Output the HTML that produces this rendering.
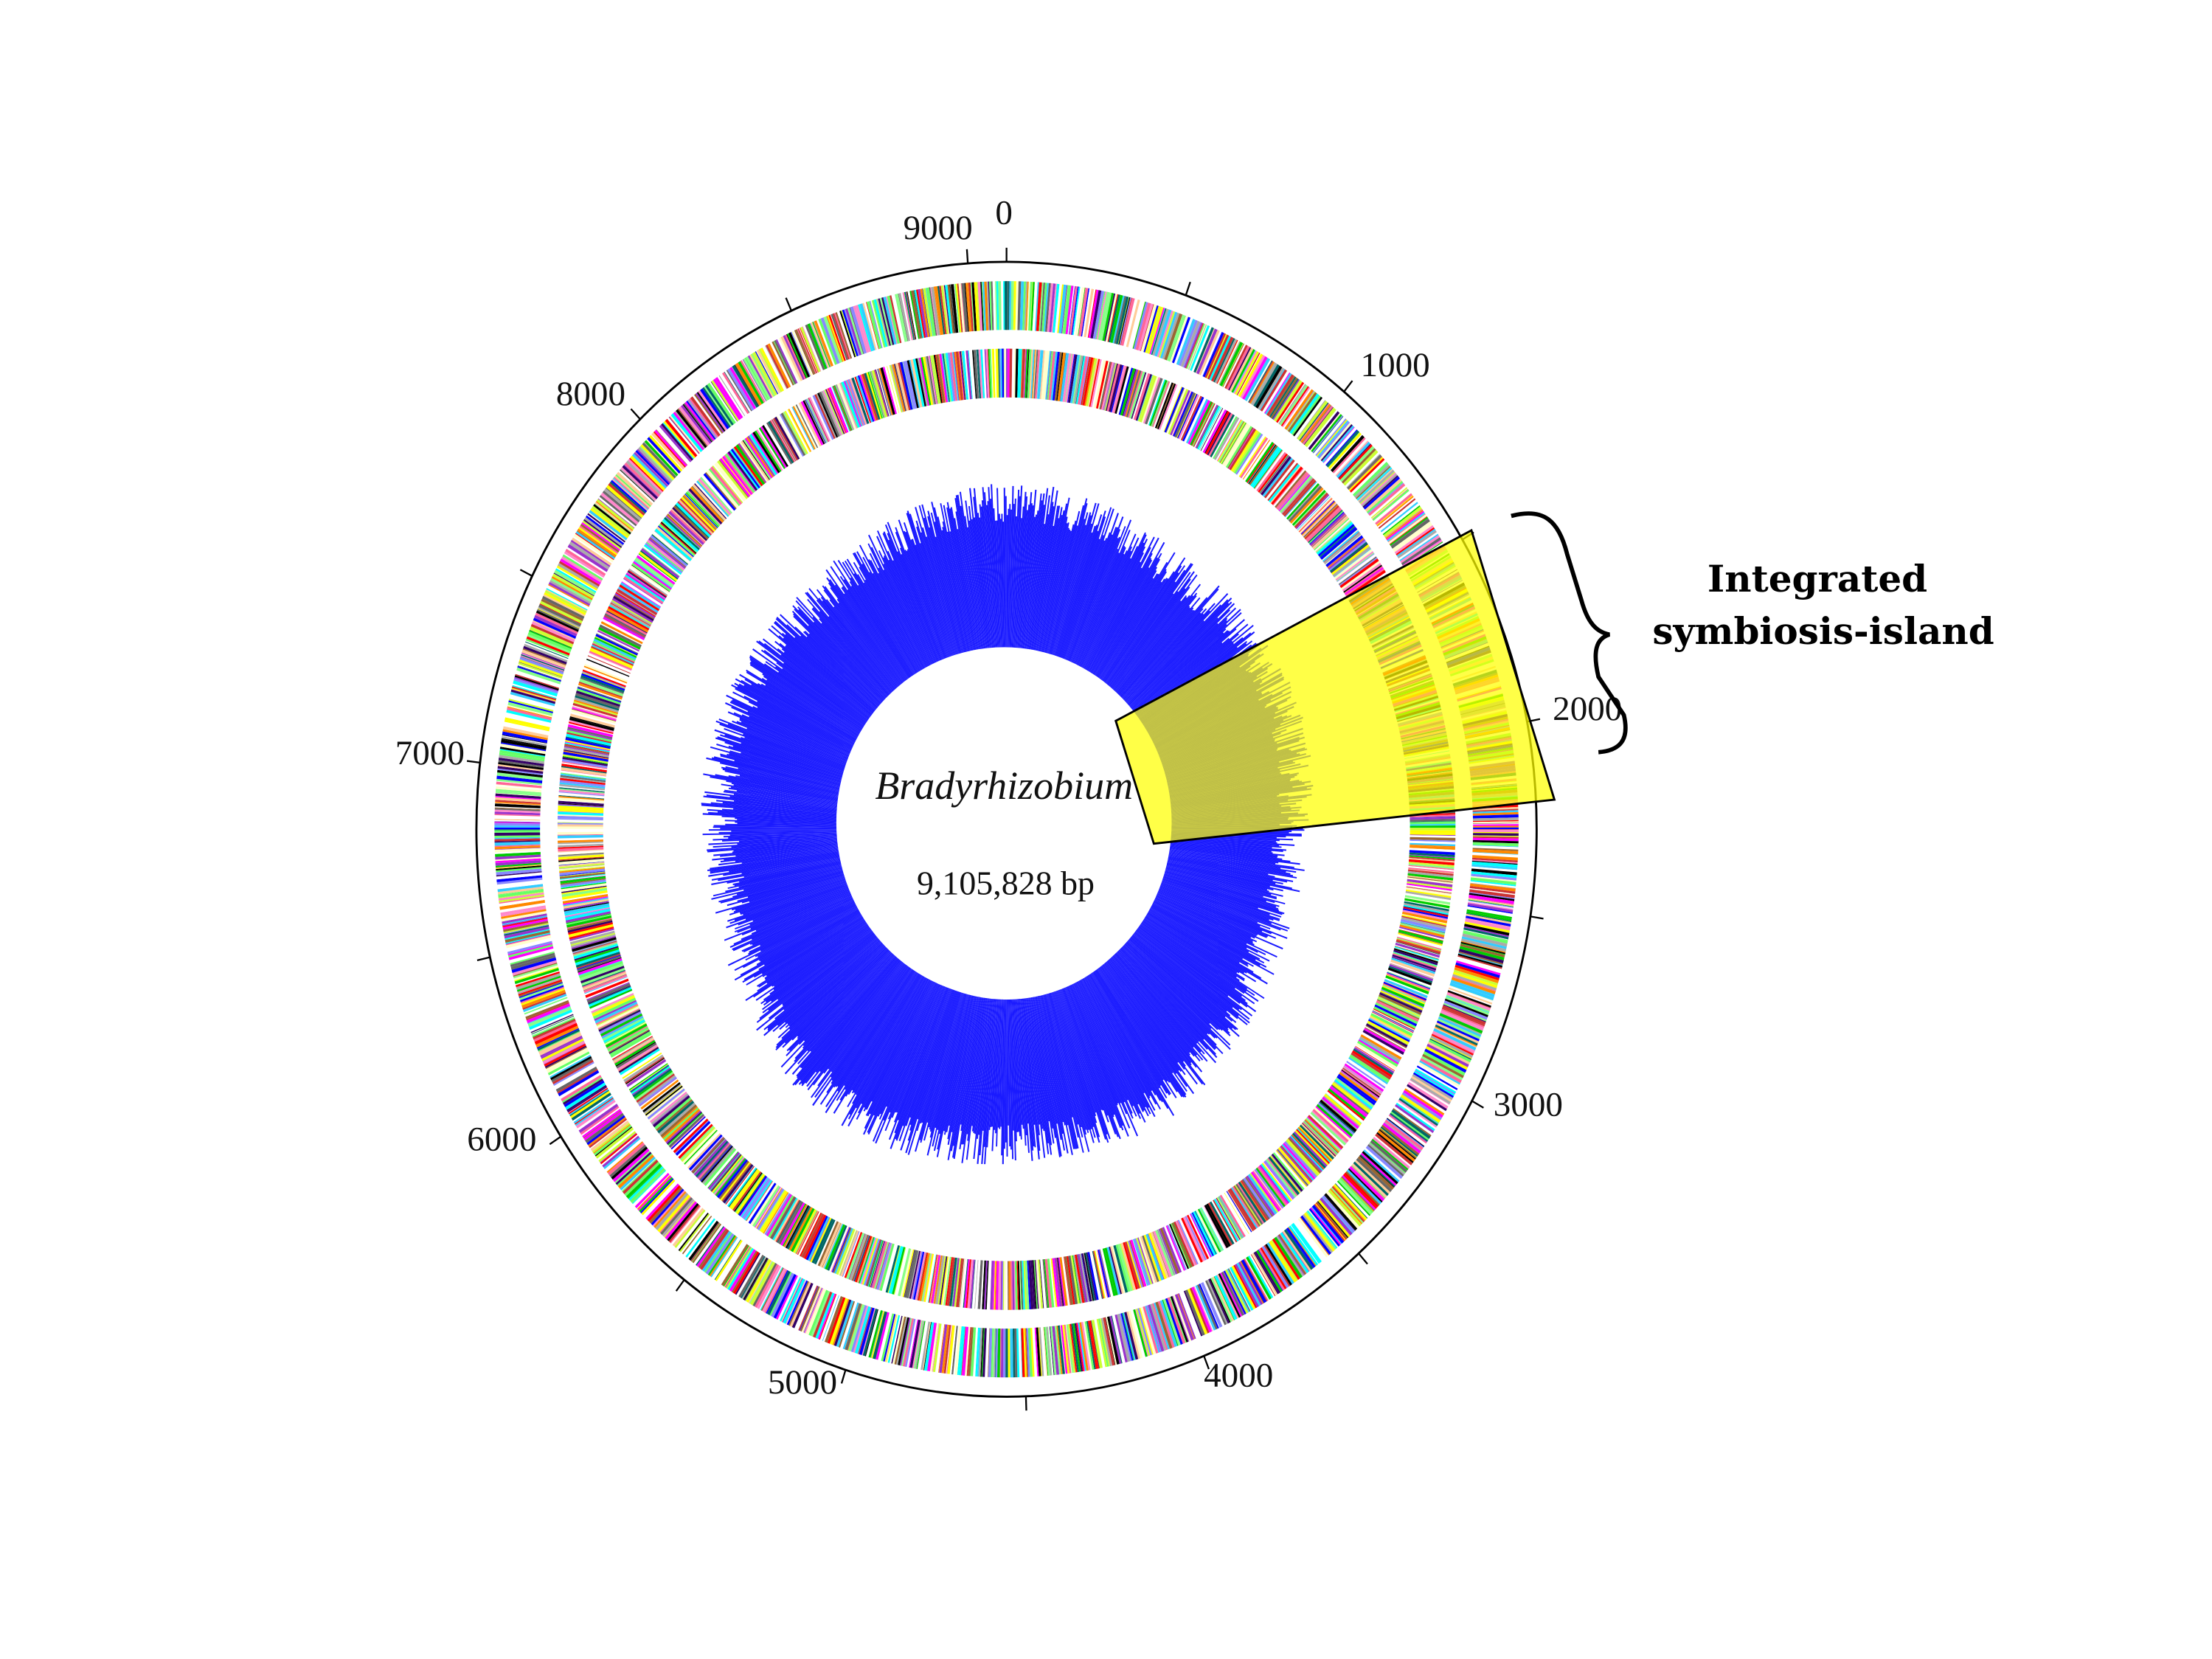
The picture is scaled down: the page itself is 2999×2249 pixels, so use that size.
<!DOCTYPE html>
<html><head><meta charset="utf-8"><style>
html,body{margin:0;padding:0;background:#fff;}
svg{display:block}
</style></head><body>
<svg id="s" width="2999" height="2249" viewBox="0 0 2999 2249" xmlns="http://www.w3.org/2000/svg">
<rect width="2999" height="2249" fill="#fff"/>
<g transform="translate(600,200) scale(1.1481)">
<g id="bands"></g>
<g id="blue"></g>
<ellipse cx="663" cy="797" rx="198" ry="207" fill="#fff"/>
<ellipse cx="666" cy="805" rx="626" ry="670" fill="none" stroke="#000" stroke-width="2.5"/>
<g id="ticks" stroke="#000" stroke-width="2"></g>
<g font-family="Liberation Serif, serif" font-size="41" fill="#111" text-anchor="middle">
<text x="663" y="90">0</text>
<text x="585" y="108">9000</text>
<text x="1125" y="270">1000</text>
<text x="175" y="304">8000</text>
<text x="1352" y="676">2000</text>
<text x="-15" y="728">7000</text>
<text x="70" y="1184">6000</text>
<text x="1282" y="1143">3000</text>
<text x="425" y="1471">5000</text>
<text x="940" y="1463">4000</text>
<text x="663" y="769" font-style="italic" font-size="47">Bradyrhizobium</text>
<text x="665" y="882" font-size="40">9,105,828 bp</text>
</g>
<polygon points="795,677 840,822 1313,770 1215,452" fill="#ffff00" fill-opacity="0.72" stroke="#000" stroke-width="2.5"/>
<path d="M1262,435 C1300,425 1318,440 1328,480 L1345,535 C1352,560 1362,572 1378,575 C1362,580 1358,595 1365,625 L1395,670 C1402,700 1390,712 1365,714" fill="none" stroke="#000" stroke-width="5"/>
</g>
<g font-family="DejaVu Serif, serif" font-weight="bold" font-size="50" fill="#000" text-anchor="middle">
<text x="2464" y="802">Integrated</text>
<text x="2472" y="873">symbiosis-island</text>
</g>
</svg>
<script>
(function(){
var NS="http://www.w3.org/2000/svg";
var cx=666,cy=805,rx=626,ry=670;
function P(t,f){return (cx+rx*f*Math.sin(t)).toFixed(1)+","+(cy-ry*f*Math.cos(t)).toFixed(1);}
var seed=7;function r(){seed=(seed*16807)%2147483647;return seed/2147483647;}
var cols=["#ff00ff","#ffff00","#00ffff","#ff0000","#00cc00","#0000ff","#000000","#ff8800","#88ff88","#ff88cc","#8888ff","#996633","#666666","#ccff33","#9933cc","#33ccff","#ff6699","#ffcc99","#006666","#cc3333","#aaaaaa","#66ff66","#ffffcc","#330066"];
function poly(parent,pts,col){var p=document.createElementNS(NS,"polygon");p.setAttribute("points",pts);p.setAttribute("fill",col);parent.appendChild(p);}
var b=document.getElementById("bands");
var bands=[[0.88,0.966],[0.761,0.847]];
for(var q=0;q<bands.length;q++){
 var band=bands[q];var t=0;
 while(t<2*Math.PI){
  var w=0.001+r()*0.005;
  var col=r()<0.12?"#ffffff":cols[Math.floor(r()*cols.length)];
  poly(b,P(t,band[0])+" "+P(t,band[1])+" "+P(t+w,band[1])+" "+P(t+w,band[0]),col);
  t+=w;
 }
}
var bl=document.getElementById("blue");
var n=1400;
for(var i=0;i<n;i++){
 var t2=i/n*2*Math.PI;var w2=2*Math.PI/n*1.05;
 var base=0.56+0.015*Math.sin(2*t2+1)+0.01*Math.cos(5*t2);
 var f=base+(r()-0.6)*0.07;
 poly(bl,P(t2,0.3)+" "+P(t2,f)+" "+P(t2+w2,f)+" "+P(t2+w2,0.3),"#1a1aff");
}
var tk=document.getElementById("ticks");
for(var k=0;k<9106;k+=500){
 var t3=k/9105.828*2*Math.PI;
 var a=P(t3,1).split(","),c=P(t3,1.025).split(",");
 var l=document.createElementNS(NS,"line");
 l.setAttribute("x1",a[0]);l.setAttribute("y1",a[1]);l.setAttribute("x2",c[0]);l.setAttribute("y2",c[1]);
 tk.appendChild(l);
}
})();
</script>
</body></html>
